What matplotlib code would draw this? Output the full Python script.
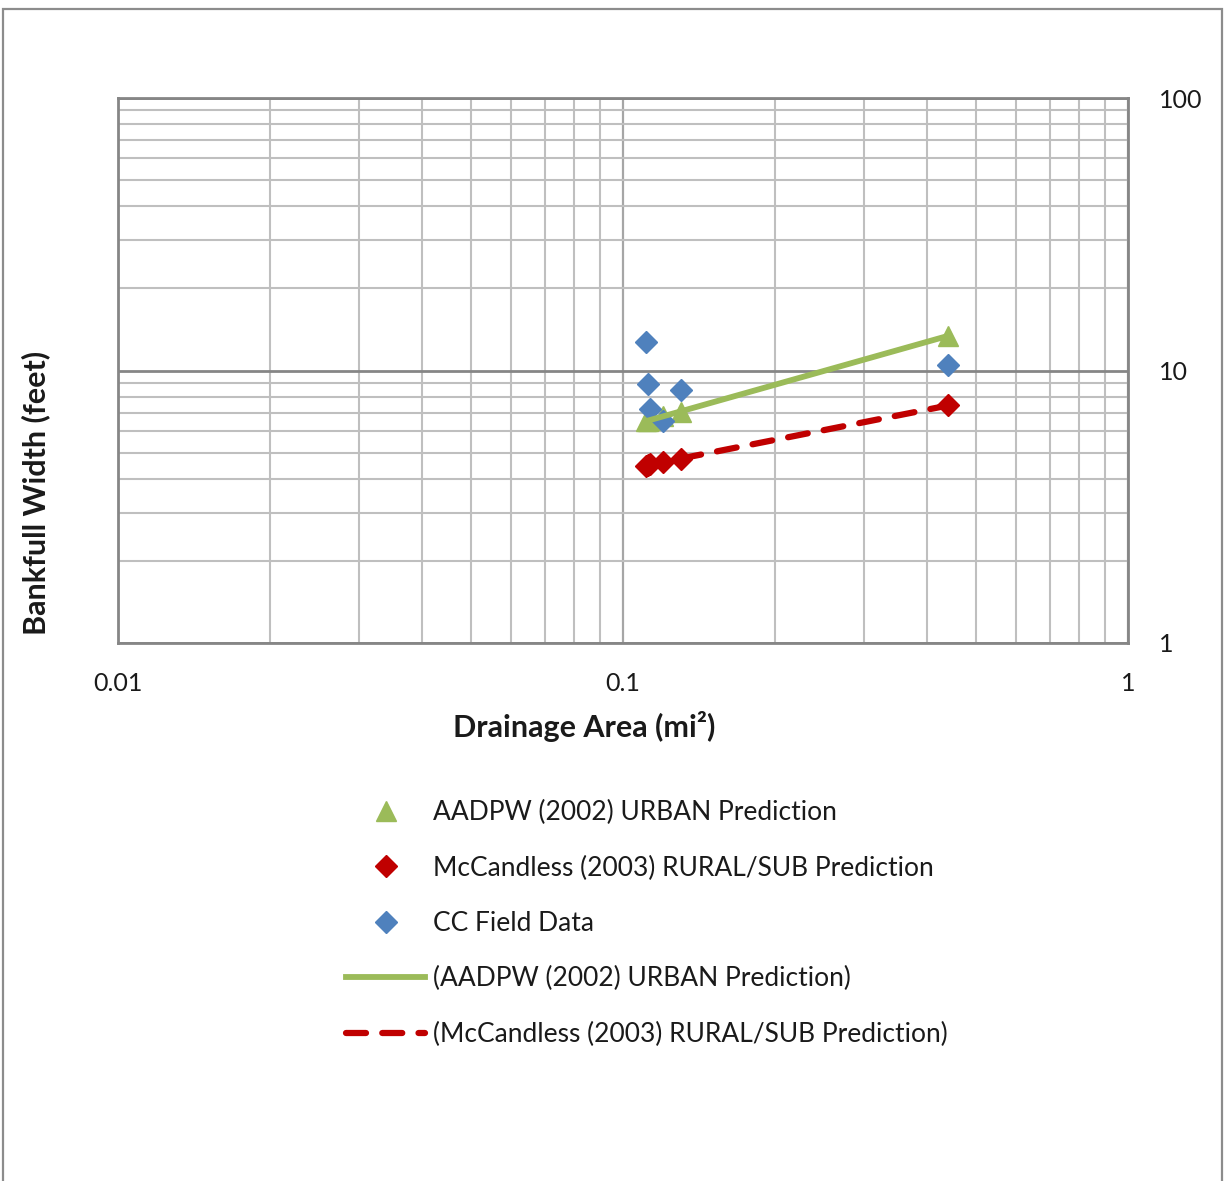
import numpy as np
import matplotlib
matplotlib.use("Agg")
import matplotlib.pyplot as plt
from matplotlib.patches import Rectangle

# ---- data ----
drainage_area = [0.111, 0.112, 0.113, 0.120, 0.130, 0.44]
field_width = [12.7, 8.9, 7.2, 6.55, 8.5, 10.5]
urban_pred = [6.5, 6.55, 6.6, 6.8, 7.05, 13.4]
rural_pred = [4.48, 4.50, 4.52, 4.60, 4.75, 7.44]

urban_label = "AADPW (2002) URBAN Prediction"
rural_label = "McCandless (2003) RURAL/SUB Prediction"
field_label = "CC Field Data"
x_ticks = [0.01, 0.1, 1]
x_tick_labels = ["0.01", "0.1", "1"]
y_ticks = [1, 10, 100]
y_tick_labels = ["1", "10", "100"]

GREEN = "#9BBB59"
RED = "#C00000"
BLUE = "#4F81BD"
FONT = "Lato"
TXT = "#1a1a1a"

W, H = 1225, 1181
fig = plt.figure(figsize=(W / 100, H / 100), dpi=100)
plt.rcParams["font.family"] = [FONT, "DejaVu Sans"]

# outer chart border
fig.patches.append(Rectangle((3 / W, -0.01), (1222 - 3) / W, 1 - 9 / H + 0.01,
                             transform=fig.transFigure, fill=False,
                             edgecolor="#8c8c8c", linewidth=1.6, zorder=0))

ax = fig.add_axes([118 / W, 1 - 643 / H, (1128 - 118) / W, (643 - 98) / H])
ax.set_xscale("log")
ax.set_yscale("log")
ax.set_xlim(0.01, 1)
ax.set_ylim(1, 100)

# grid
ax.minorticks_on()
ax.grid(True, which="minor", axis="both", color="#bfbfbf", linewidth=1.5)
ax.grid(True, which="major", axis="x", color="#a6a6a6", linewidth=1.6)
ax.grid(True, which="major", axis="y", color="#868686", linewidth=2.0)
ax.set_axisbelow(True)
for s in ax.spines.values():
    s.set_color("#868686")
    s.set_linewidth(2.0)

ax.set_xticks(x_ticks)
ax.set_xticklabels(x_tick_labels)
ax.set_yticks(y_ticks)
ax.set_yticklabels(y_tick_labels)
ax.yaxis.tick_right()
ax.tick_params(which="both", length=0)
ax.tick_params(axis="x", which="major", labelsize=18, pad=21, colors=TXT)
ax.tick_params(axis="y", which="major", labelsize=18, pad=22, colors=TXT)
ax.tick_params(which="minor", labelbottom=False, labelright=False, labelleft=False)

# trend lines (power fits, Excel style)
x_arr = np.array(drainage_area)
xs = np.geomspace(x_arr.min(), x_arr.max(), 100)
bu, au = np.polyfit(np.log(x_arr), np.log(urban_pred), 1)
br, ar = np.polyfit(np.log(x_arr), np.log(rural_pred), 1)

h_urb = ax.plot(drainage_area, urban_pred, linestyle="none", marker="^",
                markersize=15, color=GREEN, zorder=3, label=urban_label)[0]
h_rur = ax.plot(drainage_area, rural_pred, linestyle="none", marker="D",
                markersize=11, color=RED, zorder=3, label=rural_label)[0]
h_fld = ax.plot(drainage_area, field_width, linestyle="none", marker="D",
                markersize=11, color=BLUE, zorder=3, label=field_label)[0]
h_tu = ax.plot(xs, np.exp(au) * xs ** bu, color=GREEN, linewidth=4.2,
               zorder=4, label="(" + urban_label + ")")[0]
h_tr = ax.plot(xs, np.exp(ar) * xs ** br, color=RED, linewidth=4.5,
               linestyle=(0, (3.2, 2.6)), dash_capstyle="round",
               zorder=4, label="(" + rural_label + ")")[0]

# axis titles
fig.text(584 / W, 1 - 727 / H, "Drainage Area (mi²)", ha="center", va="center",
         fontsize=22, fontweight="bold", color=TXT)
fig.text(36 / W, 1 - 493 / H, "Bankfull Width (feet)", ha="center", va="center",
         rotation=90, fontsize=22, fontweight="bold", color=TXT)

# legend
leg = fig.legend(handles=[h_urb, h_rur, h_fld, h_tu, h_tr],
                 loc="upper left", bbox_to_anchor=(346 / W, 1 - 800 / H),
                 frameon=False, fontsize=19, numpoints=1, handlelength=3.0,
                 handletextpad=0.3, labelspacing=1.15, borderpad=0,
                 borderaxespad=0)
for t in leg.get_texts():
    t.set_color(TXT)

fig.savefig("out.png", dpi=100)
